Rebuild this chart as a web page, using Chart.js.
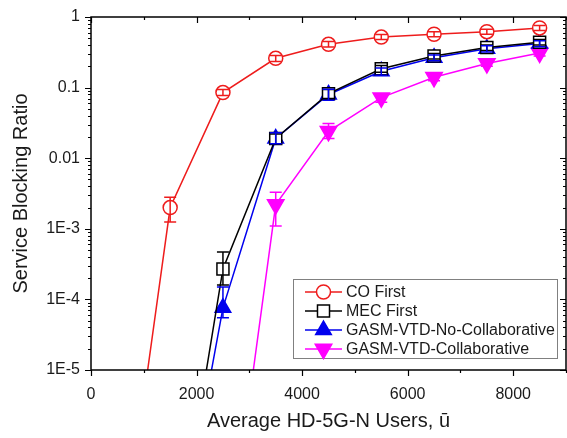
<!DOCTYPE html>
<html>
<head>
<meta charset="utf-8">
<script src="https://cdn.jsdelivr.net/npm/chart.js@4/dist/chart.umd.min.js"></script>
<style>
  html, body { margin: 0; padding: 0; background: #fff; }
  #wrap { width: 567px; height: 438px; position: relative; }
</style>
</head>
<body>
<div id="wrap"><canvas id="c"></canvas></div>
<script>
// series data; first point of each curve lies below 1E-5
const xCO  = [1000, 1500, 2500, 3500, 4500, 5500, 6500, 7500, 8500];
const yCO  = [4e-6, 2.0e-3, 0.085, 0.26, 0.41, 0.52, 0.57, 0.62, 0.70];
const loCO = [null, 1.25e-3, 0.077, 0.235, 0.375, 0.48, 0.525, 0.57, 0.645];
const hiCO = [null, 2.8e-3, 0.094, 0.285, 0.45, 0.565, 0.62, 0.67, 0.76];

const xMEC  = [2000, 2500, 3500, 4500, 5500, 6500, 7500, 8500];
const yMEC  = [1.4e-6, 2.7e-4, 0.019, 0.082, 0.185, 0.28, 0.37, 0.44];
const loMEC = [null, 1.6e-4, 0.016, 0.07, 0.165, 0.255, 0.335, 0.40];
const hiMEC = [null, 4.7e-4, 0.022, 0.094, 0.205, 0.305, 0.40, 0.48];

const xNC  = [2000, 2500, 3500, 4500, 5500, 6500, 7500, 8500];
const yNC  = [7e-7, 7.6e-5, 0.019, 0.08, 0.17, 0.265, 0.355, 0.42];
const loNC = [null, 5.5e-5, 0.016, 0.066, 0.15, 0.24, 0.32, 0.38];
const hiNC = [null, 1.5e-4, 0.023, 0.095, 0.19, 0.29, 0.39, 0.46];

const xC  = [3000, 3500, 4500, 5500, 6500, 7500, 8500];
const yC  = [3.8e-6, 2.2e-3, 0.024, 0.072, 0.14, 0.22, 0.31];
const loC = [null, 1.1e-3, 0.019, 0.062, 0.125, 0.2, 0.28];
const hiC = [null, 3.3e-3, 0.031, 0.082, 0.155, 0.24, 0.34];

const seriesNames = ['CO First', 'MEC First', 'GASM-VTD-No-Collaborative', 'GASM-VTD-Collaborative'];

const xTickValues = [0, 2000, 4000, 6000, 8000];
const xMinorValues = [1000, 3000, 5000, 7000, 9000];
const yTickValues = [1e-5, 1e-4, 1e-3, 0.01, 0.1, 1];
const yTickLabels = ['1E-5', '1E-4', '1E-3', '0.01', '0.1', '1'];

const FONT = '"Liberation Sans", Arial, sans-serif';

function pts(xs, ys) { return xs.map((x, i) => ({ x: x, y: ys[i] })); }

const styles = [
  { color: '#ee1c1c', fill: '#ffffff', pointStyle: 'circle', radius: 7, rotation: 0 },
  { color: '#000000', fill: '#ffffff', pointStyle: 'rect', radius: 8.5, rotation: 0 },
  { color: '#0000ee', fill: '#0000ee', pointStyle: 'triangle', radius: 9, rotation: 0 },
  { color: '#ff00ff', fill: '#ff00ff', pointStyle: 'triangle', radius: 9.5, rotation: 180 }
];
const xsAll = [xCO, xMEC, xNC, xC];
const ysAll = [yCO, yMEC, yNC, yC];
const loAll = [loCO, loMEC, loNC, loC];
const hiAll = [hiCO, hiMEC, hiNC, hiC];

const datasets = seriesNames.map((name, i) => ({
  label: name,
  data: pts(xsAll[i], ysAll[i]),
  borderColor: styles[i].color,
  backgroundColor: styles[i].fill,
  borderWidth: 1.5,
  pointStyle: styles[i].pointStyle,
  pointRotation: styles[i].rotation,
  pointRadius: (ctx) => (ctx.raw && ctx.raw.y < 1e-5 ? 0 : styles[i].radius),
  pointBorderWidth: 1.5,
  pointBorderColor: styles[i].color,
  pointBackgroundColor: styles[i].fill,
  tension: 0
}));

// frame, tick marks, error bars and legend drawn on top
const decor = {
  id: 'decor',
  afterDatasetsDraw(chart) {
    const c = chart.ctx, a = chart.chartArea;
    const xs = chart.scales.x, ys = chart.scales.y;
    c.save();
    // error bars
    c.lineWidth = 1.5;
    for (let i = 0; i < 4; i++) {
      c.strokeStyle = styles[i].color;
      xsAll[i].forEach((xv, k) => {
        if (loAll[i][k] == null) return;
        const px = xs.getPixelForValue(xv);
        const p1 = ys.getPixelForValue(hiAll[i][k]);
        const p2 = ys.getPixelForValue(loAll[i][k]);
        c.beginPath();
        c.moveTo(px, p1); c.lineTo(px, p2);
        c.moveTo(px - 6, p1); c.lineTo(px + 6, p1);
        c.moveTo(px - 6, p2); c.lineTo(px + 6, p2);
        c.stroke();
      });
    }
    // frame
    c.strokeStyle = '#000';
    c.lineWidth = 1.5;
    c.strokeRect(a.left, a.top, a.right - a.left, a.bottom - a.top);
    c.lineWidth = 1.2;
    c.beginPath();
    const xt = (v, len) => {
      const px = Math.round(xs.getPixelForValue(v)) + 0.5;
      c.moveTo(px, a.bottom); c.lineTo(px, a.bottom + len);
      c.moveTo(px, a.top); c.lineTo(px, a.top + len);
    };
    xTickValues.forEach(v => xt(v, 6));
    xMinorValues.forEach(v => xt(v, 3));
    const yt = (v, len) => {
      const py = Math.round(ys.getPixelForValue(v)) + 0.5;
      c.moveTo(a.left, py); c.lineTo(a.left - len, py);
      c.moveTo(a.right, py); c.lineTo(a.right - len, py);
    };
    yTickValues.forEach((v, k) => {
      yt(v, 6);
      if (k < yTickValues.length - 1) {
        for (let m = 2; m <= 9; m++) yt(v * m, 3);
      }
    });
    c.stroke();

    // legend
    const lx = 293, ly = 279, lw = 264, lh = 79;
    c.fillStyle = '#fff';
    c.fillRect(lx, ly, lw, lh);
    c.strokeStyle = '#808080';
    c.lineWidth = 1;
    c.strokeRect(lx + 0.5, ly + 0.5, lw, lh);
    c.font = '16px ' + FONT;
    c.textBaseline = 'middle';
    c.textAlign = 'left';
    seriesNames.forEach((name, i) => {
      const y = ly + 13 + i * 19;
      c.strokeStyle = styles[i].color;
      c.lineWidth = 1.5;
      c.beginPath(); c.moveTo(305, y); c.lineTo(342, y); c.stroke();
      c.fillStyle = styles[i].fill;
      Chart.helpers.drawPoint(c, {
        pointStyle: styles[i].pointStyle, rotation: styles[i].rotation,
        radius: styles[i].radius, borderWidth: 1.5
      }, 323.5, y);
      c.fillStyle = '#1a1a1a';
      c.fillText(name, 346, y + 1);
    });
    c.restore();
  }
};

new Chart(document.getElementById('c'), {
  type: 'line',
  data: { datasets: datasets },
  options: {
    responsive: true,
    maintainAspectRatio: false,
    animation: false,
    layout: { autoPadding: false, padding: { top: 17, right: 1, left: 0, bottom: 0 } },
    plugins: { legend: { display: false }, tooltip: { enabled: false } },
    scales: {
      x: {
        type: 'linear', min: 0, max: 9000,
        grid: { display: false, drawTicks: false },
        border: { display: false },
        afterBuildTicks: (s) => { s.ticks = xTickValues.map(v => ({ value: v })); },
        afterFit: (s) => { s.height = 68; s.paddingLeft = 0; s.paddingRight = 0; },
        ticks: { color: '#1a1a1a', font: { family: FONT, size: 16 }, padding: 15, maxRotation: 0,
                 callback: (v) => String(v) },
        title: { display: true, text: 'Average HD-5G-N Users, ū', color: '#1a1a1a',
                 font: { family: FONT, size: 20 }, padding: { top: 5, bottom: 5 } }
      },
      y: {
        type: 'logarithmic', min: 1e-5, max: 1,
        grid: { display: false, drawTicks: false },
        border: { display: false },
        afterBuildTicks: (s) => { s.ticks = yTickValues.map(v => ({ value: v })); },
        afterFit: (s) => { s.width = 91; s.paddingTop = 0; s.paddingBottom = 0; },
        ticks: {
          color: '#1a1a1a', font: { family: FONT, size: 16 }, padding: 11,
          callback: (v) => { const k = yTickValues.indexOf(v); return k >= 0 ? yTickLabels[k] : ''; }
        },
        title: { display: true, text: 'Service Blocking Ratio', color: '#1a1a1a',
                 font: { family: FONT, size: 20 }, padding: { top: 9, bottom: 0 } }
      }
    }
  },
  plugins: [decor]
});
</script>
</body>
</html>
